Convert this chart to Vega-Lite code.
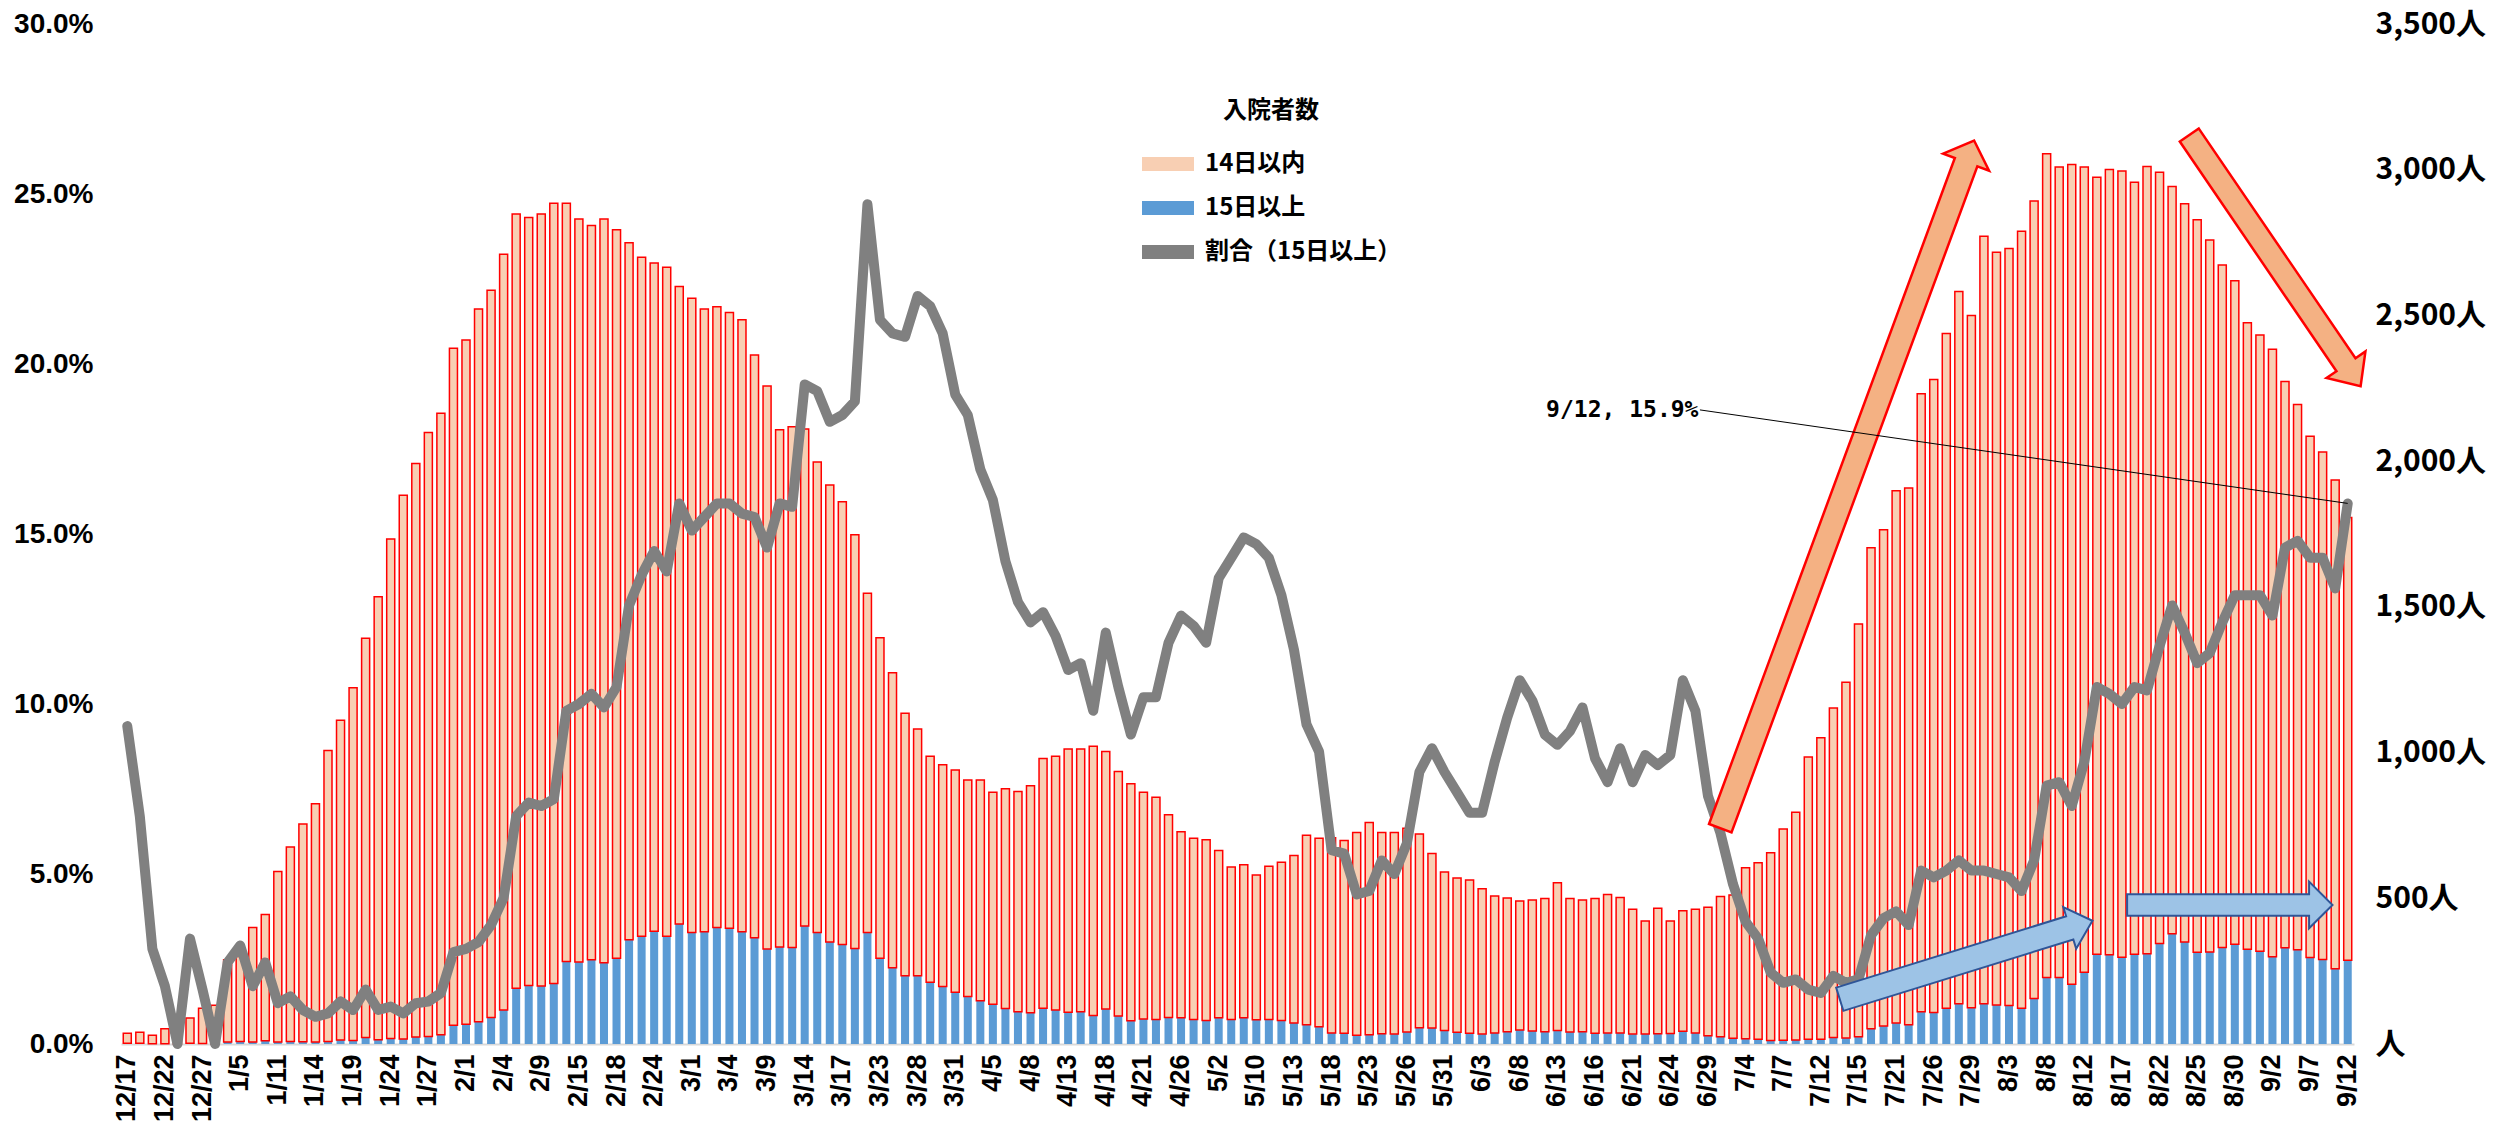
{
"$schema":"https://vega.github.io/schema/vega-lite/v6.json",
"width":2233,"height":1020,
"autosize":{"type":"none"},
"padding":{"left":121,"top":24,"right":145,"bottom":84},
"background":"white",
"config":{"view":{"stroke":null}},
"datasets":{
"main":[
{"date":"12/17","within14":34,"over15":3,"pct":9.35},
{"date":"12/18","within14":37,"over15":3,"pct":6.7},
{"date":"12/21","within14":29,"over15":1,"pct":2.8},
{"date":"12/22","within14":51,"over15":1,"pct":1.7},
{"date":"12/23","within14":70,"over15":0,"pct":0},
{"date":"12/25","within14":86,"over15":3,"pct":3.1},
{"date":"12/27","within14":121,"over15":2,"pct":1.6},
{"date":"12/28","within14":133,"over15":0,"pct":0},
{"date":"1/4","within14":282,"over15":7,"pct":2.4},
{"date":"1/5","within14":291,"over15":9,"pct":2.9},
{"date":"1/6","within14":393,"over15":7,"pct":1.7},
{"date":"1/8","within14":433,"over15":11,"pct":2.4},
{"date":"1/11","within14":585,"over15":7,"pct":1.2},
{"date":"1/12","within14":667,"over15":9,"pct":1.4},
{"date":"1/13","within14":747,"over15":8,"pct":1.0},
{"date":"1/14","within14":817,"over15":7,"pct":0.8},
{"date":"1/15","within14":998,"over15":9,"pct":0.9},
{"date":"1/18","within14":1097,"over15":14,"pct":1.25},
{"date":"1/19","within14":1210,"over15":12,"pct":1.0},
{"date":"1/20","within14":1370,"over15":22,"pct":1.6},
{"date":"1/22","within14":1520,"over15":15,"pct":1.0},
{"date":"1/24","within14":1714,"over15":19,"pct":1.1},
{"date":"1/25","within14":1866,"over15":17,"pct":0.9},
{"date":"1/26","within14":1968,"over15":24,"pct":1.2},
{"date":"1/27","within14":2072,"over15":26,"pct":1.25},
{"date":"1/28","within14":2132,"over15":32,"pct":1.5},
{"date":"1/29","within14":2323,"over15":64,"pct":2.7},
{"date":"2/1","within14":2348,"over15":68,"pct":2.8},
{"date":"2/2","within14":2446,"over15":76,"pct":3.0},
{"date":"2/3","within14":2495,"over15":91,"pct":3.5},
{"date":"2/4","within14":2593,"over15":117,"pct":4.3},
{"date":"2/5","within14":2657,"over15":191,"pct":6.7},
{"date":"2/8","within14":2635,"over15":201,"pct":7.1},
{"date":"2/9","within14":2649,"over15":199,"pct":7.0},
{"date":"2/10","within14":2677,"over15":208,"pct":7.2},
{"date":"2/12","within14":2602,"over15":283,"pct":9.8},
{"date":"2/15","within14":2550,"over15":281,"pct":10.0},
{"date":"2/16","within14":2520,"over15":289,"pct":10.3},
{"date":"2/17","within14":2552,"over15":279,"pct":9.9},
{"date":"2/18","within14":2500,"over15":294,"pct":10.5},
{"date":"2/19","within14":2391,"over15":358,"pct":12.9},
{"date":"2/22","within14":2330,"over15":370,"pct":13.8},
{"date":"2/24","within14":2293,"over15":387,"pct":14.5},
{"date":"2/25","within14":2295,"over15":370,"pct":13.9},
{"date":"2/26","within14":2187,"over15":412,"pct":15.9},
{"date":"3/1","within14":2176,"over15":383,"pct":15.1},
{"date":"3/2","within14":2137,"over15":385,"pct":15.5},
{"date":"3/3","within14":2130,"over15":400,"pct":15.9},
{"date":"3/4","within14":2113,"over15":397,"pct":15.9},
{"date":"3/5","within14":2100,"over15":385,"pct":15.6},
{"date":"3/8","within14":1999,"over15":365,"pct":15.5},
{"date":"3/9","within14":1932,"over15":326,"pct":14.6},
{"date":"3/10","within14":1775,"over15":333,"pct":15.9},
{"date":"3/11","within14":1787,"over15":331,"pct":15.8},
{"date":"3/14","within14":1705,"over15":405,"pct":19.4},
{"date":"3/15","within14":1614,"over15":383,"pct":19.2},
{"date":"3/16","within14":1568,"over15":350,"pct":18.3},
{"date":"3/17","within14":1520,"over15":341,"pct":18.5},
{"date":"3/18","within14":1419,"over15":328,"pct":18.9},
{"date":"3/22","within14":1164,"over15":383,"pct":24.7},
{"date":"3/23","within14":1100,"over15":294,"pct":21.3},
{"date":"3/24","within14":1012,"over15":262,"pct":20.9},
{"date":"3/25","within14":901,"over15":234,"pct":20.8},
{"date":"3/28","within14":847,"over15":234,"pct":22.0},
{"date":"3/29","within14":775,"over15":212,"pct":21.7},
{"date":"3/30","within14":761,"over15":197,"pct":20.9},
{"date":"3/31","within14":762,"over15":178,"pct":19.1},
{"date":"4/1","within14":743,"over15":163,"pct":18.5},
{"date":"4/2","within14":758,"over15":148,"pct":16.9},
{"date":"4/5","within14":728,"over15":136,"pct":16.0},
{"date":"4/6","within14":754,"over15":122,"pct":14.2},
{"date":"4/7","within14":755,"over15":111,"pct":13.0},
{"date":"4/8","within14":779,"over15":107,"pct":12.4},
{"date":"4/9","within14":857,"over15":123,"pct":12.7},
{"date":"4/12","within14":870,"over15":117,"pct":12.0},
{"date":"4/13","within14":903,"over15":109,"pct":11.0},
{"date":"4/14","within14":901,"over15":111,"pct":11.2},
{"date":"4/15","within14":924,"over15":98,"pct":9.8},
{"date":"4/18","within14":884,"over15":120,"pct":12.1},
{"date":"4/19","within14":839,"over15":96,"pct":10.5},
{"date":"4/20","within14":813,"over15":80,"pct":9.1},
{"date":"4/21","within14":778,"over15":86,"pct":10.2},
{"date":"4/22","within14":763,"over15":84,"pct":10.2},
{"date":"4/23","within14":696,"over15":91,"pct":11.8},
{"date":"4/26","within14":638,"over15":90,"pct":12.6},
{"date":"4/27","within14":622,"over15":84,"pct":12.3},
{"date":"4/28","within14":620,"over15":81,"pct":11.8},
{"date":"5/2","within14":574,"over15":90,"pct":13.7},
{"date":"5/6","within14":523,"over15":84,"pct":14.3},
{"date":"5/7","within14":525,"over15":90,"pct":14.9},
{"date":"5/10","within14":497,"over15":83,"pct":14.7},
{"date":"5/11","within14":526,"over15":84,"pct":14.3},
{"date":"5/12","within14":543,"over15":81,"pct":13.2},
{"date":"5/13","within14":575,"over15":72,"pct":11.6},
{"date":"5/14","within14":650,"over15":66,"pct":9.4},
{"date":"5/17","within14":647,"over15":59,"pct":8.6},
{"date":"5/18","within14":670,"over15":38,"pct":5.7},
{"date":"5/19","within14":661,"over15":37,"pct":5.6},
{"date":"5/20","within14":696,"over15":30,"pct":4.4},
{"date":"5/23","within14":728,"over15":32,"pct":4.5},
{"date":"5/24","within14":691,"over15":35,"pct":5.4},
{"date":"5/25","within14":692,"over15":34,"pct":5.0},
{"date":"5/26","within14":699,"over15":41,"pct":5.9},
{"date":"5/27","within14":665,"over15":56,"pct":8.0},
{"date":"5/28","within14":599,"over15":55,"pct":8.7},
{"date":"5/31","within14":544,"over15":46,"pct":8.0},
{"date":"6/1","within14":530,"over15":40,"pct":7.4},
{"date":"6/2","within14":526,"over15":37,"pct":6.8},
{"date":"6/3","within14":499,"over15":34,"pct":6.8},
{"date":"6/4","within14":470,"over15":38,"pct":8.3},
{"date":"6/7","within14":459,"over15":42,"pct":9.6},
{"date":"6/8","within14":443,"over15":48,"pct":10.7},
{"date":"6/9","within14":449,"over15":45,"pct":10.1},
{"date":"6/10","within14":457,"over15":42,"pct":9.1},
{"date":"6/13","within14":507,"over15":46,"pct":8.8},
{"date":"6/14","within14":458,"over15":41,"pct":9.2},
{"date":"6/15","within14":452,"over15":42,"pct":9.9},
{"date":"6/16","within14":462,"over15":37,"pct":8.4},
{"date":"6/17","within14":475,"over15":38,"pct":7.7},
{"date":"6/18","within14":465,"over15":38,"pct":8.7},
{"date":"6/21","within14":428,"over15":34,"pct":7.7},
{"date":"6/22","within14":388,"over15":34,"pct":8.5},
{"date":"6/23","within14":431,"over15":35,"pct":8.2},
{"date":"6/24","within14":386,"over15":36,"pct":8.5},
{"date":"6/25","within14":413,"over15":44,"pct":10.7},
{"date":"6/28","within14":424,"over15":38,"pct":9.8},
{"date":"6/29","within14":441,"over15":28,"pct":7.3},
{"date":"6/30","within14":481,"over15":25,"pct":6.2},
{"date":"7/1","within14":491,"over15":20,"pct":4.7},
{"date":"7/4","within14":587,"over15":18,"pct":3.6},
{"date":"7/5","within14":606,"over15":16,"pct":3.1},
{"date":"7/6","within14":644,"over15":12,"pct":2.1},
{"date":"7/7","within14":725,"over15":13,"pct":1.8},
{"date":"7/8","within14":781,"over15":14,"pct":1.9},
{"date":"7/9","within14":969,"over15":16,"pct":1.6},
{"date":"7/12","within14":1035,"over15":16,"pct":1.5},
{"date":"7/13","within14":1131,"over15":22,"pct":2.0},
{"date":"7/14","within14":1220,"over15":21,"pct":1.8},
{"date":"7/15","within14":1416,"over15":25,"pct":1.9},
{"date":"7/16","within14":1651,"over15":52,"pct":3.2},
{"date":"7/19","within14":1703,"over15":62,"pct":3.7},
{"date":"7/21","within14":1826,"over15":72,"pct":3.9},
{"date":"7/22","within14":1842,"over15":66,"pct":3.5},
{"date":"7/23","within14":2120,"over15":111,"pct":5.1},
{"date":"7/26","within14":2172,"over15":108,"pct":4.9},
{"date":"7/27","within14":2315,"over15":123,"pct":5.1},
{"date":"7/28","within14":2444,"over15":138,"pct":5.4},
{"date":"7/29","within14":2376,"over15":124,"pct":5.1},
{"date":"7/30","within14":2634,"over15":138,"pct":5.1},
{"date":"8/2","within14":2583,"over15":134,"pct":5.0},
{"date":"8/3","within14":2598,"over15":132,"pct":4.9},
{"date":"8/4","within14":2666,"over15":123,"pct":4.5},
{"date":"8/5","within14":2737,"over15":156,"pct":5.4},
{"date":"8/8","within14":2827,"over15":228,"pct":7.6},
{"date":"8/9","within14":2781,"over15":228,"pct":7.7},
{"date":"8/10","within14":2813,"over15":205,"pct":7.0},
{"date":"8/12","within14":2763,"over15":246,"pct":8.3},
{"date":"8/13","within14":2666,"over15":308,"pct":10.5},
{"date":"8/16","within14":2695,"over15":306,"pct":10.3},
{"date":"8/17","within14":2698,"over15":298,"pct":10.0},
{"date":"8/18","within14":2649,"over15":308,"pct":10.5},
{"date":"8/19","within14":2701,"over15":310,"pct":10.4},
{"date":"8/22","within14":2646,"over15":345,"pct":11.7},
{"date":"8/23","within14":2564,"over15":378,"pct":12.9},
{"date":"8/24","within14":2533,"over15":350,"pct":12.1},
{"date":"8/25","within14":2513,"over15":315,"pct":11.2},
{"date":"8/26","within14":2443,"over15":316,"pct":11.5},
{"date":"8/27","within14":2342,"over15":331,"pct":12.4},
{"date":"8/30","within14":2277,"over15":342,"pct":13.2},
{"date":"8/31","within14":2150,"over15":325,"pct":13.2},
{"date":"9/1","within14":2115,"over15":318,"pct":13.2},
{"date":"9/2","within14":2085,"over15":299,"pct":12.6},
{"date":"9/3","within14":1943,"over15":330,"pct":14.6},
{"date":"9/6","within14":1871,"over15":323,"pct":14.8},
{"date":"9/7","within14":1788,"over15":297,"pct":14.3},
{"date":"9/8","within14":1741,"over15":290,"pct":14.3},
{"date":"9/10","within14":1677,"over15":258,"pct":13.4},
{"date":"9/12","within14":1520,"over15":287,"pct":15.9}
],
"ann":[
{"name":"upArrow","pos":137.1,"pct":16.46},
{"name":"downArrow","pos":171.2,"pct":23.04},
{"name":"blueUp","pos":146.58,"pct":2.47},
{"name":"blueFlat","pos":167.6,"pct":4.09},
{"name":"leader","pos":125.36,"pct":18.65,"pos2":177,"pct2":15.9},
{"name":"label","pos":113.1,"pct":18.65,"text":"9/12, 15.9%"}
]
},
"layer":[
{
"data":{"name":"main"},
"layer":[
{
"transform":[{"fold":["over15","within14"],"as":["key","count"]}],
"mark":{"type":"bar","strokeWidth":1.5},
"encoding":{
"x":{"field":"date","type":"nominal","sort":null,
"scale":{"paddingInner":0.36,"paddingOuter":0.18},
"axis":{"title":null,
"values":["12/17","12/22","12/27","1/5","1/11","1/14","1/19","1/24","1/27","2/1","2/4","2/9","2/15","2/18","2/24","3/1","3/4","3/9","3/14","3/17","3/23","3/28","3/31","4/5","4/8","4/13","4/18","4/21","4/26","5/2","5/10","5/13","5/18","5/23","5/26","5/31","6/3","6/8","6/13","6/16","6/21","6/24","6/29","7/4","7/7","7/12","7/15","7/21","7/26","7/29","8/3","8/8","8/12","8/17","8/22","8/25","8/30","9/2","9/7","9/12"],
"labelAngle":270,"labelFont":"Liberation Sans","labelFontSize":27,"labelFontWeight":"bold","labelColor":"#000000","labelPadding":10,"labelOverlap":false,"labelBound":false,"labelFlush":false,"ticks":false,"domainColor":"#D9D9D9","domainWidth":2,"grid":false}},
"y":{"field":"count","type":"quantitative","stack":"zero",
"scale":{"domain":[0,3500],"nice":false},
"axis":{"orient":"right","title":null,"values":[0,500,1000,1500,2000,2500,3000,3500],
"labelExpr":"datum.value == 0 ? '人' : format(datum.value, ',') + '人'",
"labelFont":"Noto Sans CJK JP","labelFontSize":30,"labelFontWeight":"bold","labelColor":"#000000","labelPadding":21,"labelAlign":"left","labelBaseline":"middle","domain":false,"ticks":false,"grid":false}},
"color":{"field":"key","type":"nominal",
"scale":{"domain":["within14","over15","ratio"],"range":["#F8CFB3","#5B9BD5","#808080"]},
"legend":{"orient":"none","legendX":1020,"legendY":75,"padding":0,
"title":"入院者数","titleFont":"Noto Sans CJK JP","titleFontSize":24,"titleFontWeight":"bold","titleColor":"#000000","titleAnchor":"middle","titlePadding":14,
"labelFont":"Noto Sans CJK JP","labelFontSize":24,"labelFontWeight":"bold","labelColor":"#000000","labelOffset":10,"labelLimit":500,"rowPadding":5,
"labelExpr":"datum.label == 'within14' ? '14日以内' : datum.label == 'over15' ? '15日以上' : '割合（15日以上）'",
"symbolType":"M-1,-0.27L1,-0.27L1,0.27L-1,0.27Z","symbolSize":2704,
"encode":{"symbols":{
"shape":{"value":{"expr":"datum.value == 'ratio' ? 'M-0.9,0L0.9,0' : 'M-1,-0.27L1,-0.27L1,0.27L-1,0.27Z'"}},
"stroke":{"value":{"expr":"datum.value == 'within14' ? '#FF0000' : datum.value == 'ratio' ? '#808080' : 'transparent'"}},
"strokeWidth":{"value":{"expr":"datum.value == 'ratio' ? 10 : 2"}},
"strokeCap":{"value":"round"},
"opacity":{"value":1},"fillOpacity":{"value":1}}}}},
"stroke":{"condition":{"test":"datum.key == 'within14'","value":"#FF0000"},"value":"transparent"},
"order":{"field":"key","sort":"ascending"}
}
},
{
"mark":{"type":"line","strokeWidth":10,"strokeCap":"round","strokeJoin":"round","color":"#808080"},
"encoding":{
"x":{"field":"date","type":"nominal","sort":null},
"y":{"field":"pct","type":"quantitative","scale":{"domain":[0,30],"nice":false},
"axis":{"orient":"left","title":null,"values":[0,5,10,15,20,25,30],
"labelExpr":"format(datum.value, '.1f') + '%'",
"labelFont":"Liberation Sans","labelFontSize":28,"labelFontWeight":"bold","labelColor":"#000000","labelPadding":28,"domain":false,"ticks":false,"grid":false}}
}
}
],
"resolve":{"scale":{"y":"independent"}}
},
{
"data":{"name":"ann"},
"transform":[{"filter":"datum.name == 'upArrow'"}],
"mark":{"type":"point","shape":"M-1,-0.0327L0.937,-0.0327L0.937,-0.0668L1,0L0.937,0.0668L0.937,0.0327L-1,0.0327Z","size":537289,"angle":290.26,"filled":true,"fill":"#F4B183","stroke":"#FF0000","strokeWidth":2.5,"opacity":1},
"encoding":{
"x":{"field":"pos","type":"quantitative","scale":{"domain":[-0.5,177.5],"nice":false,"zero":false},"axis":null},
"y":{"field":"pct","type":"quantitative","scale":{"domain":[0,30],"nice":false,"zero":false},"axis":null}
}
},
{
"data":{"name":"ann"},
"transform":[{"filter":"datum.name == 'downArrow'"}],
"mark":{"type":"point","shape":"M-1,-0.0757L0.829,-0.0757L0.829,-0.155L1,0L0.829,0.155L0.829,0.0757L-1,0.0757Z","size":92416,"angle":55.7,"filled":true,"fill":"#F4B183","stroke":"#FF0000","strokeWidth":2.5,"opacity":1},
"encoding":{
"x":{"field":"pos","type":"quantitative","scale":{"domain":[-0.5,177.5],"nice":false,"zero":false},"axis":null},
"y":{"field":"pct","type":"quantitative","scale":{"domain":[0,30],"nice":false,"zero":false},"axis":null}
}
},
{
"data":{"name":"ann"},
"transform":[{"filter":"datum.name == 'blueUp'"}],
"mark":{"type":"point","shape":"M-1,-0.092L0.82,-0.092L0.82,-0.165L1,0L0.82,0.165L0.82,0.092L-1,0.092Z","size":70013,"angle":342.76,"filled":true,"fill":"#9DC3E6","stroke":"#2F5597","strokeWidth":2,"opacity":1},
"encoding":{
"x":{"field":"pos","type":"quantitative","scale":{"domain":[-0.5,177.5],"nice":false,"zero":false},"axis":null},
"y":{"field":"pct","type":"quantitative","scale":{"domain":[0,30],"nice":false,"zero":false},"axis":null}
}
},
{
"data":{"name":"ann"},
"transform":[{"filter":"datum.name == 'blueFlat'"}],
"mark":{"type":"point","shape":"M-1,-0.105L0.772,-0.105L0.772,-0.227L1,0L0.772,0.227L0.772,0.105L-1,0.105Z","size":42189,"angle":0,"filled":true,"fill":"#9DC3E6","stroke":"#2F5597","strokeWidth":2,"opacity":1},
"encoding":{
"x":{"field":"pos","type":"quantitative","scale":{"domain":[-0.5,177.5],"nice":false,"zero":false},"axis":null},
"y":{"field":"pct","type":"quantitative","scale":{"domain":[0,30],"nice":false,"zero":false},"axis":null}
}
},
{
"data":{"name":"ann"},
"transform":[{"filter":"datum.name == 'leader'"}],
"mark":{"type":"rule","stroke":"#000000","strokeWidth":1},
"encoding":{
"x":{"field":"pos","type":"quantitative","scale":{"domain":[-0.5,177.5],"nice":false,"zero":false},"axis":null},
"x2":{"field":"pos2"},
"y":{"field":"pct","type":"quantitative","scale":{"domain":[0,30],"nice":false,"zero":false},"axis":null},
"y2":{"field":"pct2"}
}
},
{
"data":{"name":"ann"},
"transform":[{"filter":"datum.name == 'label'"}],
"mark":{"type":"text","align":"left","baseline":"middle","font":"DejaVu Sans Mono","fontSize":23,"fontWeight":"bold","color":"#000000"},
"encoding":{
"x":{"field":"pos","type":"quantitative","scale":{"domain":[-0.5,177.5],"nice":false,"zero":false},"axis":null},
"y":{"field":"pct","type":"quantitative","scale":{"domain":[0,30],"nice":false,"zero":false},"axis":null},
"text":{"field":"text"}
}
}
],
"resolve":{"scale":{"x":"independent","y":"independent"}}
}
